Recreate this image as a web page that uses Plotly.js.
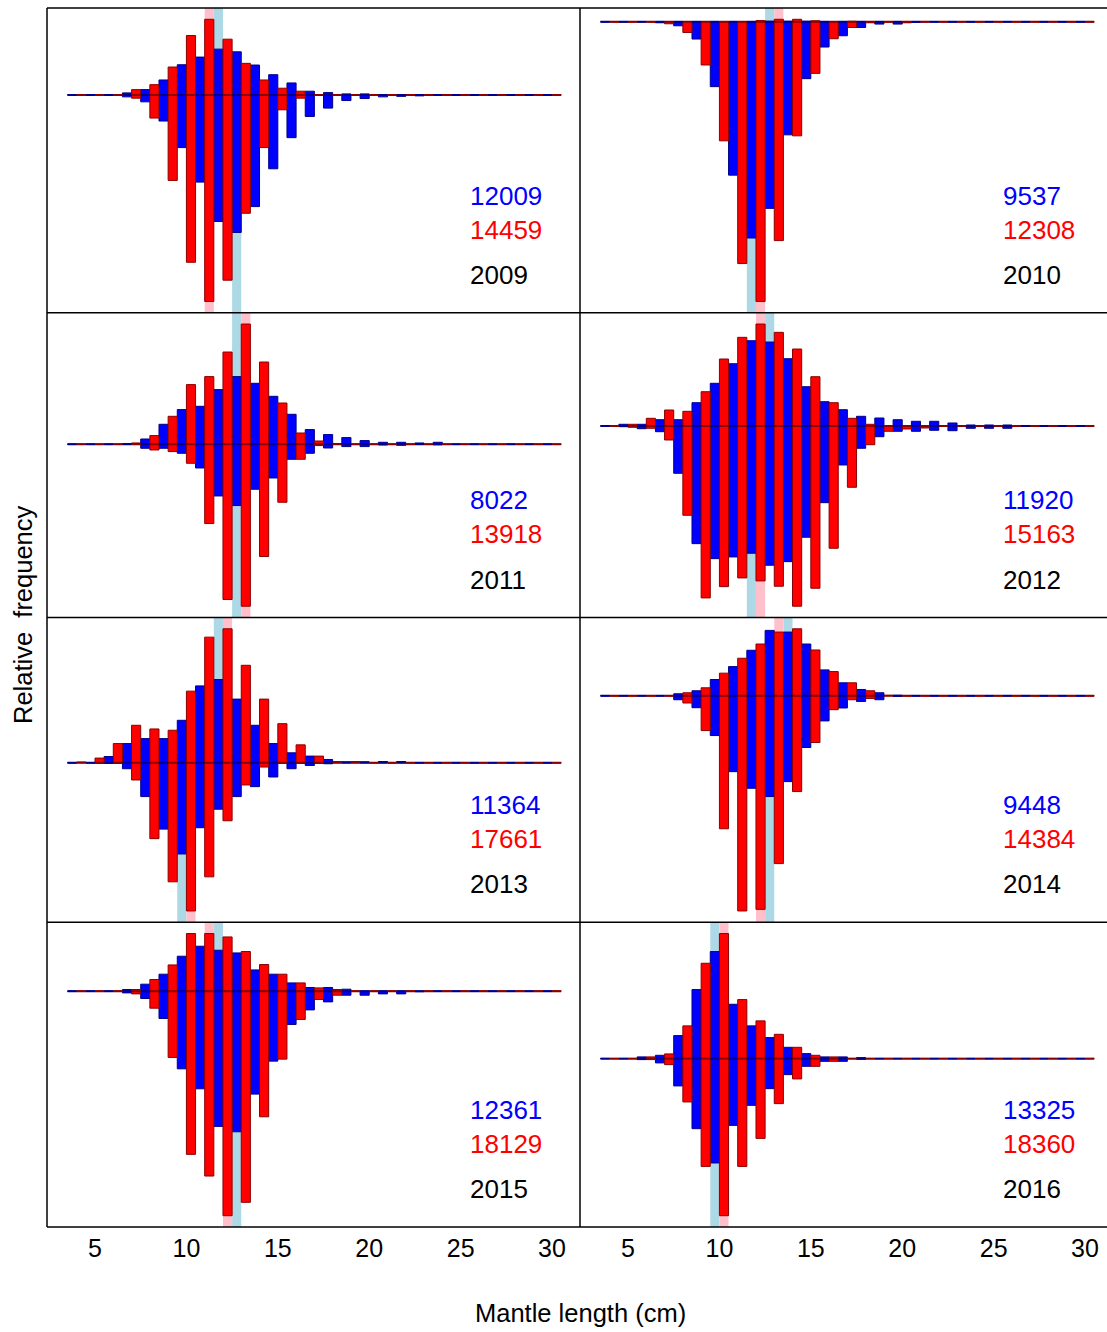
<!DOCTYPE html>
<html>
<head>
<meta charset="utf-8">
<script src="https://cdn.plot.ly/plotly-3.0.1.min.js"></script>
<style>
  html, body { margin: 0; padding: 0; background: #ffffff; overflow: hidden; }
  #chart { width: 1107px; height: 1332px; }
</style>
</head>
<body>
<div id="chart"></div>
<script>
// ---------------- DATA ----------------
// Length bins (cm, bin centres); blue bar = left half of the bin, red bar = right half
const bins = [4,5,6,7,8,9,10,11,12,13,14,15,16,17,18,19,20,21,22,23,24,25,26,27,28,29,30];
const tickVals = [5,10,15,20,25,30];

const years = [2009, 2010, 2011, 2012, 2013, 2014, 2015, 2016];
const nBlue = [12009, 9537, 8022, 11920, 11364, 9448, 12361, 13325];
const nRed  = [14459, 12308, 13918, 15163, 17661, 14384, 18129, 18360];

// highlighted bins (upper part / lower part)
const bandBlueUp   = [12, 13, 13, 13, 12, 14, 12, 10];
const bandRedUp    = [11, 13, 13, 12, 12, 13, 11, 10];
const bandBlueDown = [13, 12, 13, 12, 10, 13, 13, 10];
const bandRedDown  = [11, 12, 13, 12, 10, 12, 12, 10];

// relative frequencies (arbitrary common units), above (Up) and below (Down) the baseline
const blueUp2009   = [0,0,0,2,5.3,15,30.3,38,46,43.3,30,20.3,12,3.7,2.3,1,1,0,0,0,0,0,0,0,0,0,0];
const blueDown2009 = [0,0,0,2,7,26.3,53,87.7,127.3,138.3,112.3,74.3,43,21.7,13.3,5.7,3.7,2,1.5,1,0,0,0,0,0,0,0];
const redUp2009    = [0,0,0,5.3,10.3,28,59.7,76,56,31.7,15,6.7,3.7,0,0,0,0,0,0,0,0,0,0,0,0,0,0];
const redDown2009  = [0,0,0,3.3,23.3,86,168.3,207.7,186.3,119,53,15,3.3,0,0,0,0,0,0,0,0,0,0,0,0,0,0];

const blueUp2010   = [0,0,0,0,0,0,0,0,0,0.5,0.5,0.5,0,0,0,0,0,0,0,0,0,0,0,0,0,0,0];
const blueDown2010 = [0,0,0,1,4,17.3,65,153.7,216.7,187,113.3,57,25.3,14,5.7,2.3,2.3,0.5,0,0,0,0,0,0,0,0,0];
const redUp2010    = [0,0,0,0,0,0,0,0,1.2,2.5,2.5,1,0,0.5,0,0,0,0,0,0,0,0,0,0,0,0,0];
const redDown2010  = [0,0,0,2,10.7,43.3,119.3,242.3,280.3,219.3,114.3,51.7,17,5.7,1,0,1,0,0,0,0,0,0,0,0,0,0];

const blueUp2011   = [0,0,0,0.5,5.3,20,34.7,38,54.7,67.7,61,48,30,14.7,9.7,6.7,3.7,2,2,1,2,0,0,0,0,0,0];
const blueDown2011 = [0,0,0,0,4,4,9,23.7,51.7,61.3,45,33.7,15,9,3.7,2.3,2.3,0.7,1,0,0.5,0,0,0,0,0,0];
const redUp2011    = [0,0,0,1,8.7,28,59.7,67.7,92.3,120.3,82.3,41.3,11.3,3.3,0.5,0,0,0,0,0,0,0,0,0,0,0,0];
const redDown2011  = [0,0,0,0,5.7,7.3,19,79.3,155.3,162,112.3,58,15,1.3,0,0,0,0,0,0,0,0,0,0,0,0,0];

const blueUp2012   = [0,1.7,1.7,6.3,6.3,23.3,42.7,62.3,85.3,84,67.3,39.3,24.3,16.3,9.7,8,6.3,4.7,4.7,3,1,1,1,0.5,0,0,0];
const blueDown2012 = [0,0.7,2.7,5.7,47.3,117.7,132.7,131,127.3,139.3,135.7,111.3,76.7,39,22.3,10.7,5.3,5.3,4.3,4.7,2.3,2.3,2.3,0.5,0,0,0];
const redUp2012    = [0,1.7,7.7,16,14.7,34.3,67,88.7,102,93.7,77,49.3,23.3,7.7,1.7,0,0,0,0,0,0,0,0,0,0,0,0];
const redDown2012  = [0,1.3,2.3,14,89.3,172,160.7,152,155,160.3,180.3,162.3,122.3,61.3,18.7,5.3,3,2,0.5,0,0,0,0,0,0,0,0];

const blueUp2013   = [0,0,6.3,19.3,24.3,24.3,42.7,77.3,83.7,64,37.7,19.3,10,6.7,3.3,0.7,0.7,1,1,0,0,0,0,0,0,0,0];
const blueDown2013 = [0,0,0.7,6,34,66.7,91.7,65.3,46.7,34,24,14.3,6,2.7,1,0,0,0,0,0,0,0,0,0,0,0,0];
const redUp2013    = [0.5,4.7,19.3,37.7,34,32.7,72,126.3,134.7,98,64,39.3,18,6.7,1,1,0,0,0,0,0,0,0,0,0,0,0];
const redDown2013  = [0,0.7,0.7,17.3,76.3,119.7,149,114.7,58.3,22.3,4.3,0.7,0.7,0.7,0,0,0,0,0,0,0,0,0,0,0,0,0];

const blueUp2014   = [0,0,0,0,2,5,16.3,29.3,45.7,65.7,64,52,26,13,6.3,3,0.5,0,0,0,0,0,0,0,0,0,0];
const blueDown2014 = [0,0,0,0,4,12,40,76.3,93,101.3,86.3,52,25.3,12.3,5.7,4,0.5,0,0,0,0,0,0,0,0,0,0];
const redUp2014    = [0,0,0,0,3,8,22.7,37.7,52,64,67.3,46,24.3,13,5,0.3,0,0,0,0,0,0,0,0,0,0,0];
const redDown2014  = [0,0,0,0,7.3,35,133.7,216.3,214.7,168.7,96.3,47,14,4,2.7,0,0,0,0,0,0,0,0,0,0,0,0];

const blueUp2015   = [0,0,0,1.7,7,17,35,45,41,38.3,21.3,17,8.3,3.7,3.7,2,0,0,0,0,0,0,0,0,0,0,0];
const blueDown2015 = [0,0,0,1.7,7.3,27.3,77.7,97.7,135.3,140.7,103,70,33.3,18.7,10.7,4,4,2.7,2.7,0.5,0,0,0,0,0,0,0];
const redUp2015    = [0,0,0,1.7,11.7,26.3,57.7,57.7,54.3,39.7,26.7,17,8.3,3.3,1.7,0,0,0,0,0,0,0,0,0,0,0,0];
const redDown2015  = [0,0,0,2.7,17,66.3,163.3,185,224.7,211.3,125.7,68,28.3,8.3,4,0,0,0,0,0,0,0,0,0,0,0,0];

const blueUp2016   = [0,0,1.7,3.3,23,69,107,54.3,32.7,21,11.3,5,1.7,1.7,1,0,0,0,0,0,0,0,0,0,0,0,0];
const blueDown2016 = [0,0,1,4.3,27.3,70,104.3,66.7,46.7,30,16,7.7,2.7,2.7,0.7,0,0,0,0,0,0,0,0,0,0,0,0];
const redUp2016    = [0,0,1.7,4.7,32.7,95.3,125,59,37.7,24.3,11.3,3.3,1.7,0,0,0,0,0,0,0,0,0,0,0,0,0,0];
const redDown2016  = [0,0,1,6,43.3,107.7,157,107.7,79.7,45,20.3,7.7,2.7,0,0,0,0,0,0,0,0,0,0,0,0,0,0];

const blueUp   = [blueUp2009, blueUp2010, blueUp2011, blueUp2012, blueUp2013, blueUp2014, blueUp2015, blueUp2016];
const blueDown = [blueDown2009, blueDown2010, blueDown2011, blueDown2012, blueDown2013, blueDown2014, blueDown2015, blueDown2016];
const redUp    = [redUp2009, redUp2010, redUp2011, redUp2012, redUp2013, redUp2014, redUp2015, redUp2016];
const redDown  = [redDown2009, redDown2010, redDown2011, redDown2012, redDown2013, redDown2014, redDown2015, redDown2016];

// ---------------- BUILD ----------------
const FONT = 'Liberation Sans, Arial, Helvetica, sans-serif';
const BLUE = '#0000FF', RED = '#FF0000';
const DBLUE = '#00008B', DRED = '#8B0000';
const W = 1107, H = 1332;
const mL = 47, mR = 0, mT = 8, mB = 105;
const plotW = W - mL - mR, plotH = H - mT - mB;
const colSplit = 533 / plotW;             // left column 533 px wide
const xRangeFull = [2.374, 31.53];         // scale of a full 533-px panel
const pxPerUnit = 533 / (xRangeFull[1] - xRangeFull[0]);
const xRangeRight = [xRangeFull[0], xRangeFull[0] + (plotW - 533) / pxPerUnit];

const traces = [];
const layout = {
  width: W, height: H,
  margin: {l: mL, r: mR, t: mT, b: mB, pad: 0},
  paper_bgcolor: '#ffffff', plot_bgcolor: '#ffffff',
  showlegend: false,
  barmode: 'relative',
  bargap: 0,
  font: {family: FONT, size: 24, color: '#000000'},
  shapes: [], annotations: []
};

years.forEach((yr, k) => {
  const row = Math.floor(k / 2), col = k % 2;
  const sfx = k === 0 ? '' : String(k + 1);
  const xa = 'x' + sfx, ya = 'y' + sfx;
  const xDom = col === 0 ? [0, colSplit] : [colSplit, 1];
  const yDom = [1 - (row + 1) / 4, 1 - row / 4];

  const maxUp = Math.max(...blueUp[k], ...redUp[k]);
  const maxDown = Math.max(...blueDown[k], ...redDown[k]);
  const span = maxUp + maxDown;
  const yr0 = -maxDown - 0.04 * span, yr1 = maxUp + 0.04 * span;

  layout['xaxis' + sfx] = {
    domain: xDom, anchor: ya, range: col === 0 ? xRangeFull : xRangeRight,
    showgrid: false, zeroline: false, showline: false, ticks: '',
    tickmode: 'array', tickvals: tickVals, ticktext: tickVals.map(String),
    showticklabels: row === 3, tickfont: {family: FONT, size: 25, color: '#000'},
    ticklabelstandoff: 4,
    fixedrange: true
  };
  layout['yaxis' + sfx] = {
    domain: yDom, anchor: xa, range: [yr0, yr1],
    showgrid: false, zeroline: false, showline: false, ticks: '',
    showticklabels: false, fixedrange: true
  };

  const bx = bins.map(c => c - 0.25);
  const rx = bins.map(c => c + 0.25);
  const common = {type: 'bar', xaxis: xa, yaxis: ya, width: 0.5, hoverinfo: 'skip'};
  traces.push(Object.assign({}, common, {x: bx, y: blueUp[k],
    marker: {color: BLUE, line: {color: DBLUE, width: 1}}}));
  traces.push(Object.assign({}, common, {x: bx, y: blueDown[k].map(v => -v),
    marker: {color: BLUE, line: {color: DBLUE, width: 1}}}));
  traces.push(Object.assign({}, common, {x: rx, y: redUp[k],
    marker: {color: RED, line: {color: DRED, width: 1}}}));
  traces.push(Object.assign({}, common, {x: rx, y: redDown[k].map(v => -v),
    marker: {color: RED, line: {color: DRED, width: 1}}}));

  // baseline segments (one per bar slot)
  const blx = [], bly = [], rlx = [], rly = [];
  bins.forEach(c => {
    blx.push(c - 0.5, c, null); bly.push(0, 0, null);
    rlx.push(c, c + 0.5, null); rly.push(0, 0, null);
  });
  traces.push({type: 'scatter', mode: 'lines', xaxis: xa, yaxis: ya, x: blx, y: bly,
    line: {color: DBLUE, width: 2}, hoverinfo: 'skip', connectgaps: false});
  traces.push({type: 'scatter', mode: 'lines', xaxis: xa, yaxis: ya, x: rlx, y: rly,
    line: {color: DRED, width: 2}, hoverinfo: 'skip', connectgaps: false});

  // highlighted bins (behind bars)
  const band = (x0, x1, y0, y1, color) => layout.shapes.push({
    type: 'rect', xref: xa, yref: ya, x0: x0, x1: x1, y0: y0, y1: y1,
    fillcolor: color, line: {width: 0}, layer: 'below'
  });
  band(bandBlueUp[k] - 0.5, bandBlueUp[k], 0, yr1, '#ADD8E6');
  band(bandRedUp[k], bandRedUp[k] + 0.5, 0, yr1, '#FFC0CB');
  band(bandBlueDown[k] - 0.5, bandBlueDown[k], yr0, 0, '#ADD8E6');
  band(bandRedDown[k], bandRedDown[k] + 0.5, yr0, 0, '#FFC0CB');

  // panel labels
  const lab = (txt, yfrac, color) => layout.annotations.push({
    text: txt, xref: xa, yref: ya + ' domain', x: 25.4, y: yfrac,
    xanchor: 'left', yanchor: 'middle', showarrow: false,
    font: {family: FONT, size: 26, color: color}
  });
  lab(String(nBlue[k]), 0.384, BLUE);
  lab(String(nRed[k]), 0.273, RED);
  lab(String(yr), 0.124, '#000000');
});

// panel frames
const frame = (x0, y0, x1, y1) => layout.shapes.push({
  type: 'line', xref: 'paper', yref: 'paper', x0: x0, y0: y0, x1: x1, y1: y1,
  line: {color: '#000000', width: 1.5}, layer: 'above'
});
[1, 0.75, 0.5, 0.25, 0].forEach(y => frame(0, y, 1, y));
frame(0, 0, 0, 1);
frame(colSplit, 0, colSplit, 1);

// axis titles
layout.annotations.push({
  text: 'Mantle length (cm)', xref: 'paper', yref: 'paper',
  x: (580 - mL) / plotW, y: -(1313 - (H - mB)) / plotH,
  xanchor: 'center', yanchor: 'middle', showarrow: false,
  font: {family: FONT, size: 25.5, color: '#000'}
});
layout.annotations.push({
  text: 'Relative\u00a0\u00a0frequency', xref: 'paper', yref: 'paper',
  x: (23 - mL) / plotW, y: ((H - mB) - 615) / plotH,
  xanchor: 'center', yanchor: 'middle', textangle: -90, showarrow: false,
  font: {family: FONT, size: 25.5, color: '#000'}
});

Plotly.newPlot('chart', traces, layout, {displayModeBar: false, staticPlot: true});
</script>
</body>
</html>
